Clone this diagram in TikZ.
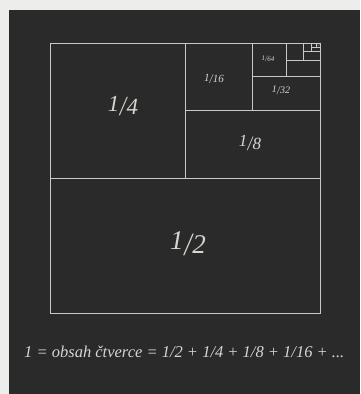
\documentclass[tikz,border=0pt]{standalone}
\usepackage{fontspec}
\setmainfont{Liberation Serif}
\definecolor{paper}{HTML}{EDEDEB}
\definecolor{board}{HTML}{2B2A2A}
\definecolor{chalk}{HTML}{C9C9C2}
\definecolor{chalktext}{HTML}{D6D6CE}
\newcommand\myfr[2]{\raisebox{.3ex}{#1}\kern.02em\raisebox{-.15ex}{\scalebox{1}[1.2]{/}}\kern.02em#2}
\tikzset{
  grid line/.style={draw=chalk, line width=0.8pt},
  fraclabel/.style={text=chalktext, font=\itshape, inner sep=0pt},
}
\begin{document}
\begin{tikzpicture}[x=1pt,y=-1pt]
\useasboundingbox (0,0) rectangle (360,394);
\fill[paper] (0,0) rectangle (360,394);
\fill[board] (9,10) rectangle (360,394);
% outer square
\draw[grid line] (50,43) rectangle (320,313);
% subdivisions
\draw[grid line] (50,178) -- (320,178);
\draw[grid line] (185,43) -- (185,178);
\draw[grid line] (185,110.5) -- (320,110.5);
\draw[grid line] (252.5,43) -- (252.5,110.5);
\draw[grid line] (252.5,76.75) -- (320,76.75);
\draw[grid line] (286.25,43) -- (286.25,76.75);
\draw[grid line] (286.25,59.9) -- (320,59.9);
\draw[grid line] (303.1,43) -- (303.1,59.9);
\draw[grid line, line width=0.6pt] (303.1,51.4) -- (320,51.4);
\draw[grid line, line width=0.6pt] (311.6,43) -- (311.6,51.4);
\draw[grid line, line width=0.5pt] (311.6,47.2) -- (320,47.2);
\draw[grid line, line width=0.5pt] (315.8,43) -- (315.8,47.2);
% labels
\node[fraclabel, font=\fontsize{23}{23}\selectfont\itshape] (q4) at (123,106) {\myfr{1}{4}};
\node[fraclabel, font=\fontsize{27}{27}\selectfont\itshape] (q2) at (188,244) {\myfr{1}{2}};
\node[fraclabel, font=\fontsize{17}{17}\selectfont\itshape] (q8) at (250,143) {\myfr{1}{8}};
\node[fraclabel, font=\fontsize{11}{11}\selectfont\itshape] (q16) at (214,79) {\myfr{1}{16}};
\node[fraclabel, font=\fontsize{10}{10}\selectfont\itshape] (q32) at (281,90) {\myfr{1}{32}};
\node[fraclabel, font=\fontsize{7}{7}\selectfont\itshape] (q64) at (268,59) {\myfr{1}{64}};
\node[fraclabel, font=\fontsize{3}{3}\selectfont\itshape] (q128) at (317.8,45) {\myfr{1}{2}};
% equation
\node[fraclabel, font=\fontsize{16.5}{17}\selectfont\itshape, anchor=base west] (eq) at (24,357)
  {1 = obsah čtverce = 1/2 + 1/4 + 1/8 + 1/16 + ...};
\end{tikzpicture}
\end{document}
